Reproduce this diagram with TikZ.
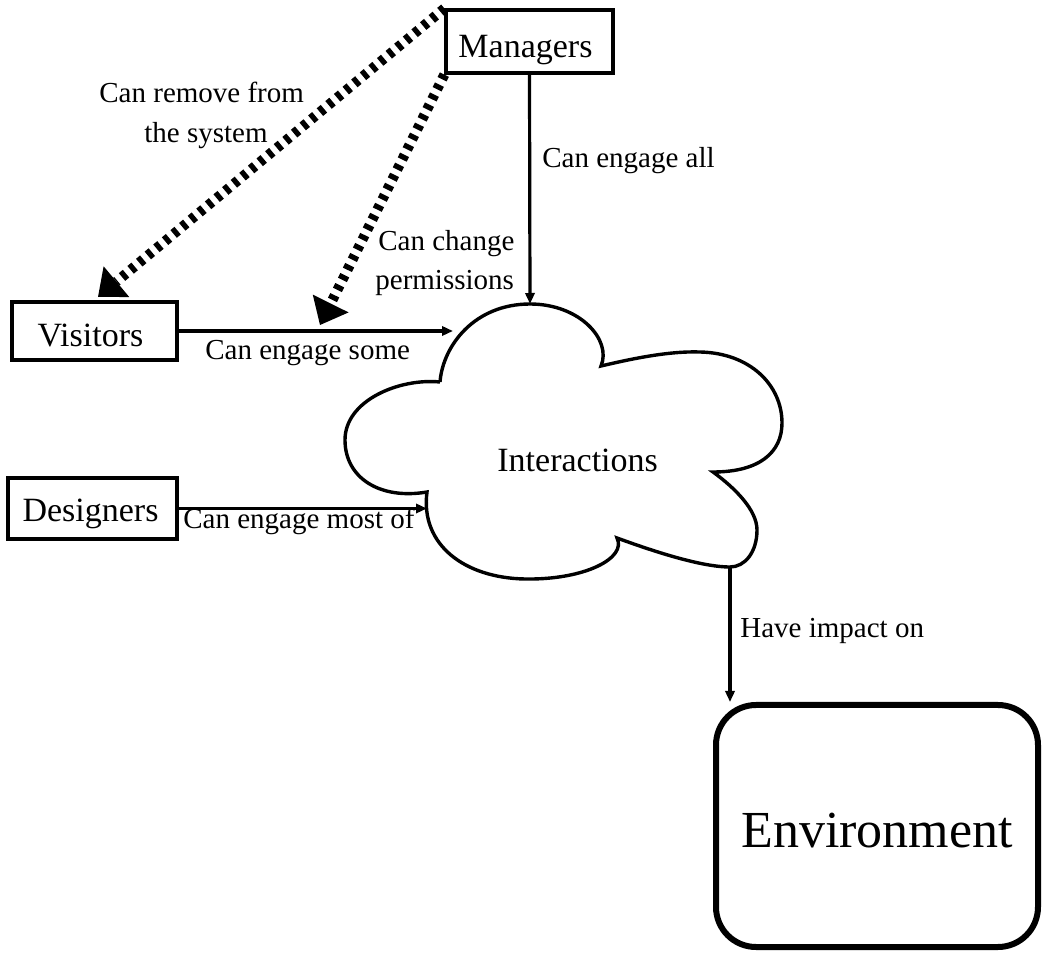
\documentclass[tikz,border=0pt]{standalone}
\usepackage{fontspec}
\setmainfont{Liberation Serif}
\usetikzlibrary{arrows.meta}

\tikzset{
  boxed/.style={draw, line width=1.6pt, inner sep=0pt, text depth=0pt,
    font=\fontsize{17}{20}\selectfont},
  edgetext/.style={anchor=base west, inner sep=0pt,
    font=\fontsize{14.5}{18}\selectfont},
  conn/.style={line width=1.6pt, -{Triangle[length=5.5pt,width=4.6pt]}},
  authority/.style={line width=5pt, dash pattern=on 2.6pt off 3pt,
    -{Triangle[length=12pt,width=20pt,line width=0pt]}},
  cloudline/.style={line width=1.7pt, line join=miter}
}

\begin{document}
\begin{tikzpicture}[x=0.5pt, y=-0.5pt]
  \useasboundingbox (0,0) rectangle (1046,957);

  % actors
  \node[boxed, minimum width=83.5pt, minimum height=31.5pt, text height=16.5pt]
    (mgr) at (529.5,41.5) {\hspace*{-4pt}Managers};
  \node[boxed, minimum width=82.5pt, minimum height=29pt, text height=16pt]
    (vis) at (94.5,331) {\hspace*{-4pt}Visitors};
  \node[boxed, minimum width=84.5pt, minimum height=30.5pt, text height=13.5pt]
    (des) at (92.5,508.5) {\hspace*{-2pt}Designers};

  % environment
  \node[draw, line width=3pt, rounded corners=20pt, minimum width=161pt,
    minimum height=121pt, inner sep=0pt, text height=21pt, text depth=0pt,
    font=\fontsize{26}{30}\selectfont]
    (env) at (877,826) {Environment};

  % the interaction cloud
  \draw[cloudline]
    (440,382) .. controls (443,345) and (475,304) .. (530,304)
              .. controls (580,304) and (612,340) .. (601,366)
              .. controls (635,358) and (670,351) .. (700,352)
              .. controls (750,353) and (782,385) .. (782,423)
              .. controls (782,452) and (760,472) .. (713,472)
              .. controls (735,488) and (757,510) .. (757,530)
              .. controls (757,552) and (745,567) .. (730,567)
              .. controls (700,567) and (650,550) .. (617,538)
              .. controls (627,558) and (585,580) .. (525,579)
              .. controls (465,578) and (420,545) .. (427,492)
              .. controls (380,500) and (345,478) .. (345,440)
              .. controls (345,400) and (400,378) .. (440,382);
  \node[anchor=base west, inner sep=0pt, font=\fontsize{17}{20}\selectfont]
    (inter) at (497,472) {Interactions};

  % points where connectors meet the cloud
  \coordinate (cTop) at (530,304);
  \coordinate (cVis) at (453,331);
  \coordinate (cDes) at (427,508.5);
  \coordinate (cBot) at (730,567);
  % ends of the authority arrows
  \coordinate (visTip) at (98,297);
  \coordinate (permTip) at (320,325);

  % connectors
  \draw[conn] (mgr.south) -- (cTop);
  \draw[conn] (vis.east) -- (cVis);
  \draw[conn] (des.east) -- (cDes);
  \draw[conn] (cBot) -- (cBot |- env.north);
  \draw[authority] (mgr.north west) -- (visTip);
  \draw[authority] (mgr.south west) -- (permTip);

  % connector labels
  \node[edgetext] (lAll) at (542,168) {Can engage all};
  \node[edgetext] (lRem1) at (99,103) {Can remove from};
  \node[edgetext] (lRem2) at (144,143) {the system};
  \node[edgetext] (lChg1) at (378,251) {Can change};
  \node[edgetext] (lChg2) at (375,290) {permissions};
  \node[edgetext] (lSome) at (205,360) {Can engage some};
  \node[edgetext] (lMost) at (183,529) {Can engage most of};
  \node[edgetext] (lImp) at (740,638) {Have impact on};
\end{tikzpicture}
\end{document}
